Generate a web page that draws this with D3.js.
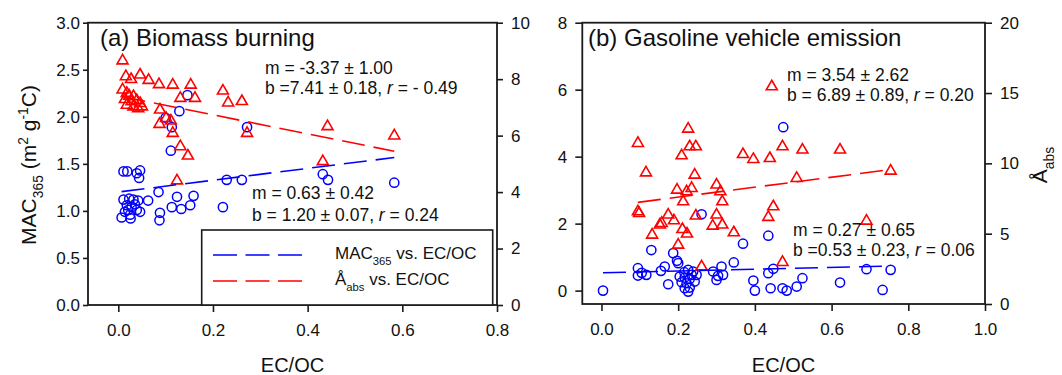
<!DOCTYPE html>
<html><head><meta charset="utf-8">
<script src="https://cdn.jsdelivr.net/npm/d3@7"></script>
<style>
body{margin:0;background:#fff}
svg{display:block}
text{font-family:"Liberation Sans",Arial,Helvetica,sans-serif;fill:#111}
</style>
</head><body>
<svg id="c" width="1062" height="375"></svg>
<script>
// ---------- data ----------
const xTicksA = [0.0, 0.2, 0.4, 0.6, 0.8];
const xTicksB = [0.0, 0.2, 0.4, 0.6, 0.8, 1.0];
const yLeftTicksA = [0.0, 0.5, 1.0, 1.5, 2.0, 2.5, 3.0];
const yRightTicksA = [0, 2, 4, 6, 8, 10];
const yLeftTicksB = [0, 2, 4, 6, 8];
const yRightTicksB = [0, 5, 10, 15, 20];

// panel (a) Biomass burning: MAC365 (left axis) vs EC/OC
const macA = [[0.146,2.23],[0.129,2.06],[0.100,1.99],[0.113,1.89],[0.272,1.89],[0.111,1.64],
 [0.011,1.42],[0.019,1.42],[0.046,1.43],[0.039,1.40],[0.044,1.35],[0.229,1.33],[0.261,1.33],
 [0.432,1.39],[0.443,1.33],[0.583,1.30],[0.085,1.20],[0.124,1.15],[0.159,1.16],[0.063,1.11],
 [0.113,1.04],[0.133,1.02],[0.152,1.06],[0.088,0.98],[0.087,0.90],[0.221,1.04],[0.046,0.99],
 [0.011,1.12],[0.023,1.13],[0.032,1.12],[0.042,1.11],[0.018,1.06],[0.028,1.04],[0.039,1.01],
 [0.014,0.99],[0.025,0.96],[0.007,0.93],[0.026,0.92],[0.035,1.07],[0.021,1.01]];
// panel (a): Å_abs (right axis) vs EC/OC
const absA = [[0.009,8.71],[0.016,8.15],[0.027,8.05],[0.046,8.21],[0.064,8.02],[0.086,7.87],
 [0.115,7.85],[0.153,7.85],[0.221,7.64],[0.232,7.22],[0.261,7.27],[0.009,7.68],[0.018,7.56],
 [0.023,7.46],[0.032,7.44],[0.014,7.34],[0.028,7.26],[0.039,7.30],[0.046,7.20],[0.018,7.14],
 [0.032,7.08],[0.042,7.02],[0.050,7.08],[0.131,7.38],[0.162,7.38],[0.088,6.97],[0.101,6.67],
 [0.111,6.58],[0.087,6.46],[0.115,6.14],[0.131,5.67],[0.147,5.34],[0.124,4.46],[0.272,6.14],
 [0.442,6.38],[0.432,5.14],[0.583,6.05]];
// panel (b) Gasoline vehicle emission: MAC365 (left axis)
const macB = [[0.004,0.00],[0.095,0.67],[0.095,0.45],[0.105,0.53],[0.117,0.47],[0.130,1.21],
 [0.155,0.59],[0.165,0.72],[0.174,0.19],[0.187,1.12],[0.197,0.89],[0.200,0.82],
 [0.216,0.55],[0.226,0.62],[0.239,0.57],[0.248,0.47],[0.217,0.39],[0.230,0.35],[0.209,0.25],
 [0.222,0.22],[0.243,0.27],[0.217,0.07],[0.230,0.09],[0.226,-0.03],[0.204,0.42],[0.235,0.47],
 [0.261,2.28],[0.291,0.57],[0.304,0.44],[0.313,0.72],[0.317,0.47],[0.300,0.32],[0.345,0.84],
 [0.369,1.40],[0.396,0.30],[0.400,0.00],[0.435,1.64],[0.435,0.52],[0.448,0.65],[0.441,0.07],
 [0.474,4.88],[0.472,0.07],[0.483,0.00],[0.509,0.12],[0.524,0.37],[0.622,0.24],[0.691,0.64],
 [0.754,0.62],[0.733,0.02]];
// panel (b): Å_abs (right axis)
const absB = [[0.226,12.56],[0.095,11.54],[0.230,11.30],[0.246,11.30],[0.209,10.66],[0.369,10.75],
 [0.396,10.40],[0.116,9.45],[0.243,9.29],[0.300,8.58],[0.197,8.22],[0.235,8.34],[0.222,8.10],
 [0.310,8.10],[0.315,7.39],[0.213,7.39],[0.095,6.68],[0.098,6.56],[0.174,6.45],[0.189,6.04],
 [0.157,5.85],[0.152,5.74],[0.246,6.38],[0.300,6.45],[0.290,5.66],[0.315,5.74],[0.211,5.42],
 [0.223,5.10],[0.132,5.02],[0.345,5.19],[0.200,4.31],[0.261,2.77],[0.444,15.57],[0.439,10.47],
 [0.472,11.30],[0.524,11.07],[0.622,11.07],[0.754,9.57],[0.509,9.05],[0.448,7.04],[0.435,6.28],
 [0.691,6.02],[0.472,3.08]];
// regression fits [slope, intercept]
const fitMacA = [0.63, 1.20];
const fitAbsA = [-3.37, 7.41];
const fitMacB = [0.27, 0.53];
const fitAbsB = [3.54, 6.89];

// ---------- drawing ----------
const svg = d3.select("#c");
const BLUE = "#0000ff", RED = "#ff0000", INK = "#1a1a1a";
const DASH = "23,9";

const panels = [
 {L:88, R:497, T:22.7, B:305, xd:[-0.064,0.8], yl:[0,3], yr:[0,10],
  xt:xTicksA, ylt:yLeftTicksA, yrt:yRightTicksA, ylf:d3.format(".1f"), yrf:d3.format("d"),
  ltick:5, lpad:3, rtick:6, rpad:8,
  mac:macA, abs:absA, fm:fitMacA, fa:fitAbsA},
 {L:582.3, R:985, T:22.7, B:304, xd:[-0.05,1.0], yl:[-0.4,8], yr:[0,20],
  xt:xTicksB, ylt:yLeftTicksB, yrt:yRightTicksB, ylf:d3.format("d"), yrf:d3.format("d"),
  ltick:7, lpad:8, rtick:7, rpad:8,
  mac:macB, abs:absB, fm:fitMacB, fa:fitAbsB}
];

const tri = "M0,-4.75L5.5,4.75L-5.5,4.75Z";

panels.forEach(p => {
  const x = d3.scaleLinear().domain(p.xd).range([p.L, p.R]);
  const yl = d3.scaleLinear().domain(p.yl).range([p.B, p.T]);
  const yr = d3.scaleLinear().domain(p.yr).range([p.B, p.T]);
  p.x = x; p.yl = yl; p.yr = yr;

  const styleAxis = g => {
    g.select(".domain").remove();
    g.selectAll(".tick line").attr("stroke", INK).attr("stroke-width", 1.6);
    g.selectAll(".tick text").attr("font-size", 17).attr("fill", "#111")
      .attr("font-family", '"Liberation Sans",Arial,sans-serif');
  };
  svg.append("g").attr("transform", `translate(0,${p.B})`)
    .call(d3.axisBottom(x).tickValues(p.xt).tickFormat(d3.format(".1f")).tickSize(7).tickPadding(12))
    .call(styleAxis);
  svg.append("g").attr("transform", `translate(${p.L},0)`)
    .call(d3.axisLeft(yl).tickValues(p.ylt).tickFormat(p.ylf).tickSize(p.ltick).tickPadding(p.lpad))
    .call(styleAxis);
  svg.append("g").attr("transform", `translate(${p.R},0)`)
    .call(d3.axisRight(yr).tickValues(p.yrt).tickFormat(p.yrf).tickSize(p.rtick).tickPadding(p.rpad))
    .call(styleAxis);

  // frame
  svg.append("rect").attr("x", p.L).attr("y", p.T).attr("width", p.R - p.L).attr("height", p.B - p.T)
    .attr("fill", "none").attr("stroke", INK).attr("stroke-width", 1.8);

  // fit lines
  const fitLine = (data, fit, ys, color) => {
    const xs = data.map(d => d[0]);
    const x0 = d3.min(xs), x1 = d3.max(xs);
    svg.append("line")
      .attr("x1", x(x0)).attr("y1", ys(fit[1] + fit[0] * x0))
      .attr("x2", x(x1)).attr("y2", ys(fit[1] + fit[0] * x1))
      .attr("stroke", color).attr("stroke-width", 1.6).attr("stroke-dasharray", DASH);
  };

  // markers
  svg.append("g").selectAll("circle").data(p.mac).join("circle")
    .attr("cx", d => x(d[0])).attr("cy", d => yl(d[1])).attr("r", 4.6)
    .attr("fill", "none").attr("stroke", BLUE).attr("stroke-width", 1.5);
  svg.append("g").selectAll("path").data(p.abs).join("path")
    .attr("d", tri).attr("transform", d => `translate(${x(d[0])},${yr(d[1])})`)
    .attr("fill", "none").attr("stroke", RED).attr("stroke-width", 1.6).attr("stroke-linejoin", "miter");

  fitLine(p.mac, p.fm, yl, BLUE);
  fitLine(p.abs, p.fa, yr, RED);
});

// ---------- text helpers ----------
function rich(g, x, y, size, parts, opts = {}) {
  const t = g.append("text").attr("x", x).attr("y", y).attr("font-size", size);
  if (opts.anchor) t.attr("text-anchor", opts.anchor);
  if (opts.transform) t.attr("transform", opts.transform);
  let shift = 0;
  parts.forEach(pt => {
    const s = t.append("tspan").text(pt.t);
    const want = pt.sub ? size * 0.33 : pt.sup ? -size * 0.38 : 0;
    if (want !== shift) { s.attr("dy", want - shift); shift = want; }
    if (pt.sub || pt.sup) s.attr("font-size", size * 0.66);
    if (pt.it) s.attr("font-style", "italic");
  });
  return t;
}

// titles
rich(svg, 100, 46, 24, [{t:"(a) Biomass burning"}]);
rich(svg, 588, 46, 24, [{t:"(b) Gasoline vehicle emission"}]);

// annotations
const AF = 17.5;
rich(svg, 265, 74, AF, [{t:"m = -3.37 ± 1.00"}]);
rich(svg, 265, 94, AF, [{t:"b =7.41 ± 0.18, "},{t:"r",it:true},{t:" = - 0.49"}]);
rich(svg, 252, 199, AF, [{t:"m = 0.63 ± 0.42"}]);
rich(svg, 252, 221, AF, [{t:"b = 1.20 ± 0.07, "},{t:"r",it:true},{t:" = 0.24"}]);
rich(svg, 787, 81, AF, [{t:"m = 3.54 ± 2.62"}]);
rich(svg, 787, 101, AF, [{t:"b = 6.89 ± 0.89, "},{t:"r",it:true},{t:" = 0.20"}]);
rich(svg, 793, 236, AF, [{t:"m = 0.27 ± 0.65"}]);
rich(svg, 793, 256, AF, [{t:"b =0.53 ± 0.23, "},{t:"r",it:true},{t:" = 0.06"}]);

// axis titles
rich(svg, 292.5, 372, 20, [{t:"EC/OC"}], {anchor:"middle"});
rich(svg, 783.5, 372, 20, [{t:"EC/OC"}], {anchor:"middle"});
rich(svg, 0, 0, 21, [{t:"MAC"},{t:"365",sub:true},{t:" (m"},{t:"2",sup:true},{t:" g"},{t:"-1",sup:true},{t:"C)"}],
  {anchor:"middle", transform:"translate(36,165) rotate(-90)"});
rich(svg, 0, 0, 21, [{t:"Å"},{t:"abs",sub:true}],
  {anchor:"middle", transform:"translate(1047,165) rotate(-90)"});

// legend (panel a)
const lg = svg.append("g");
lg.append("rect").attr("x", 201.7).attr("y", 230).attr("width", 291).attr("height", 75)
  .attr("fill", "#fff").attr("stroke", INK).attr("stroke-width", 1.6);
lg.append("line").attr("x1", 213).attr("x2", 302).attr("y1", 255).attr("y2", 255)
  .attr("stroke", BLUE).attr("stroke-width", 1.6).attr("stroke-dasharray", "24,8.5");
lg.append("line").attr("x1", 213).attr("x2", 302).attr("y1", 281).attr("y2", 281)
  .attr("stroke", RED).attr("stroke-width", 1.6).attr("stroke-dasharray", "24,8.5");
rich(lg, 335, 259, 17, [{t:"MAC"},{t:"365",sub:true},{t:" vs. EC/OC"}]);
rich(lg, 335, 285, 17, [{t:"Å"},{t:"abs",sub:true},{t:" vs. EC/OC"}]);
</script>
</body></html>
